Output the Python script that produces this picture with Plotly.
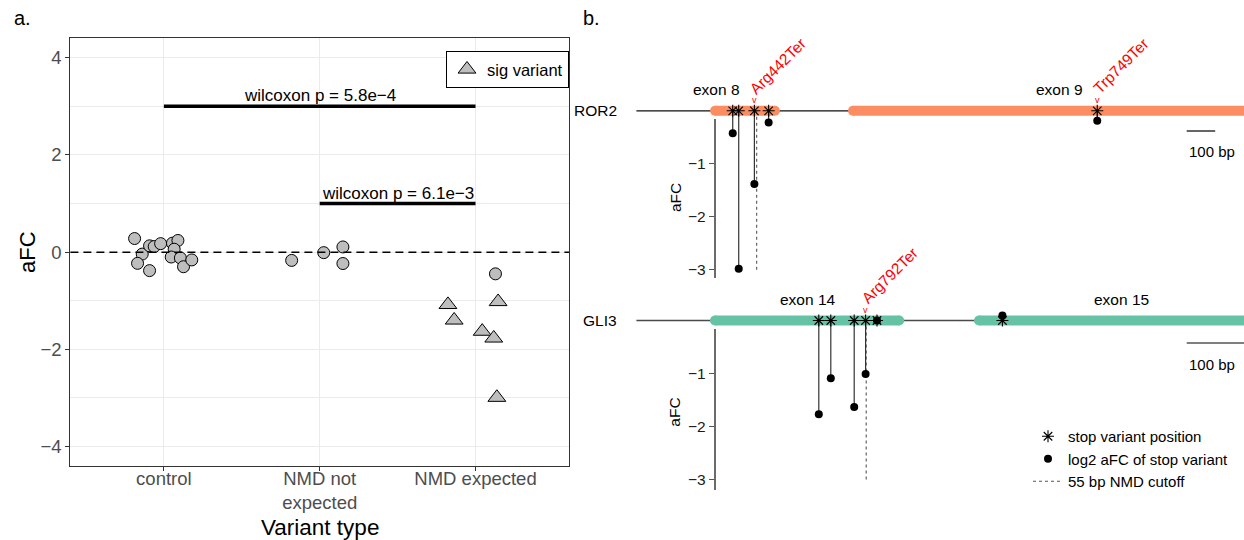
import plotly.graph_objects as go

W, H = 1244, 540
FONT = "Liberation Sans, Arial, Helvetica, sans-serif"

# ---------------- Panel a data ----------------
categories = ["control", "NMD not<br>expected", "NMD expected"]
control_jitter = [-0.188, -0.139, -0.169, -0.092, -0.092, -0.062, -0.021, 0.055, 0.090, 0.066, 0.047, 0.106, 0.126, 0.179]
control_afc = [0.28, -0.04, -0.23, -0.38, 0.13, 0.115, 0.175, 0.185, 0.24, 0.06, -0.10, -0.12, -0.30, -0.16]
nmd_not_jitter = [-0.18, 0.026, 0.149, 0.149]
nmd_not_afc = [-0.17, -0.01, 0.107, -0.234]
nmd_exp_jitter = [0.128, 0.145, -0.177, -0.137, 0.043, 0.117, 0.137]
nmd_exp_afc = [-0.446, -1.02, -1.08, -1.40, -1.63, -1.77, -2.99]
nmd_exp_sig = [False, True, True, True, True, True, True]
comp_from = [1, 2]
comp_to = [3, 3]
comp_y = [3.0, 1.0]
comp_label = ["wilcoxon p = 5.8e\u22124", "wilcoxon p = 6.1e\u22123"]
ref_level = 0

# ---------------- Panel b data ----------------
ror2_gene_span = [0, 2300]
ror2_exon_name = ["exon 8", "exon 9"]
ror2_exon_start = [276, 760]
ror2_exon_end = [486, 2300]
ror2_exon_label_x = [282, 1483]
ror2_var_pos = [338, 359, 414, 464, 1617]
ror2_var_afc = [-0.425, -2.98, -1.38, -0.22, -0.19]
ror2_var_label = ["", "", "Arg442Ter", "", "Trp749Ter"]
ror2_nmd_cutoff = 422

gli3_gene_span = [0, 1200]
gli3_exon_name = ["exon 14", "exon 15"]
gli3_exon_start = [131, 571]
gli3_exon_end = [438, 1200]
gli3_exon_label_x = [286, 809]
gli3_var_pos = [304, 324, 363, 382, 401, 610]
gli3_var_afc = [-1.77, -1.09, -1.63, -1.01, 0.0, 0.095]
gli3_var_label = ["", "", "", "Arg792Ter", "", ""]
gli3_nmd_cutoff = 383

afc_ticks = [-1, -2, -3]
cutoff_depth = -3
scalebar_bp = 100

fig = go.Figure()

# ---------------- Panel a ----------------
PT_FILL = "#BEBEBE"
circ_x, circ_y, tri_x, tri_y = [], [], [], []
for j, v in zip(control_jitter, control_afc):
    circ_x.append(1 + j); circ_y.append(v)
for j, v in zip(nmd_not_jitter, nmd_not_afc):
    circ_x.append(2 + j); circ_y.append(v)
for j, v, s in zip(nmd_exp_jitter, nmd_exp_afc, nmd_exp_sig):
    if s:
        tri_x.append(3 + j); tri_y.append(v)
    else:
        circ_x.append(3 + j); circ_y.append(v)

for i in range(len(comp_from)):
    fig.add_trace(go.Scatter(x=[comp_from[i], comp_to[i]], y=[comp_y[i], comp_y[i]], mode="lines",
                             line=dict(color="black", width=3.5), showlegend=False, hoverinfo="skip"))
    fig.add_annotation(x=(comp_from[i] + comp_to[i]) / 2, y=comp_y[i], xref="x", yref="y",
                       text=comp_label[i], showarrow=False, yanchor="bottom", yshift=-1,
                       font=dict(size=17, color="black", family=FONT))

fig.add_shape(type="line", xref="x domain", x0=0, x1=1, yref="y", y0=ref_level, y1=ref_level,
              line=dict(color="black", width=1.5, dash="8px,5px"))

fig.add_trace(go.Scatter(x=circ_x, y=circ_y, mode="markers", showlegend=False,
                         marker=dict(symbol="circle", size=12, color=PT_FILL, line=dict(color="black", width=1))))
fig.add_trace(go.Scatter(x=tri_x, y=tri_y, mode="markers", name="sig variant", showlegend=True, legend="legend",
                         marker=dict(symbol="triangle-up", size=15.5, color=PT_FILL, line=dict(color="black", width=1))))

# ---------------- Panel b ----------------
UNIT = 53.0  # px per aFC unit
genes = [
    dict(name="ROR2", xa="x2", ya="y2", yd="y4", zero=110.8, bp0=636.4, ppb=0.285, dom=(22, 292), ax=(119.3, 278.3),
         span=ror2_gene_span, es=ror2_exon_start, ee=ror2_exon_end, en=ror2_exon_name, elx=ror2_exon_label_x,
         pos=ror2_var_pos, afc=ror2_var_afc, lab=ror2_var_label, cut=ror2_nmd_cutoff, color="#FC8D62",
         gline="#111111", sb_px=1186.7, sb_y=131, sbt_y=151.7, afc_lab_y=198),
    dict(name="GLI3", xa="x3", ya="y3", yd="y5", zero=320.5, bp0=636.4, ppb=0.60, dom=(235, 505), ax=(329.3, 490),
         span=gli3_gene_span, es=gli3_exon_start, ee=gli3_exon_end, en=gli3_exon_name, elx=gli3_exon_label_x,
         pos=gli3_var_pos, afc=gli3_var_afc, lab=gli3_var_label, cut=gli3_nmd_cutoff, color="#66C2A5",
         gline="#4a4a4a", sb_px=1186.7, sb_y=343, sbt_y=364, afc_lab_y=412.7),
]

layout_axes = {}
for gi, g in enumerate(genes):
    xa, ya, yd = g["xa"], g["ya"], g["yd"]
    to_afc = lambda px, z=g["zero"]: (z - px) / UNIT
    to_bp = lambda px, g=g: (px - g["bp0"]) / g["ppb"]
    # gene backbone
    fig.add_trace(go.Scatter(x=g["span"], y=[0, 0], xaxis=xa, yaxis=ya, mode="lines",
                             line=dict(color=g["gline"], width=1.3), showlegend=False, hoverinfo="skip"))
    # exons (thick with round ends)
    ex, ey = [], []
    for s, e in zip(g["es"], g["ee"]):
        ex += [s, e, None]; ey += [0, 0, None]
    fig.add_trace(go.Scatter(x=ex, y=ey, xaxis=xa, yaxis=ya, mode="lines+markers",
                             line=dict(color=g["color"], width=10),
                             marker=dict(color=g["color"], size=10, line=dict(width=0)),
                             showlegend=False, hoverinfo="skip"))
    # NMD cutoff
    fig.add_trace(go.Scatter(x=[g["cut"], g["cut"]], y=[0, cutoff_depth], xaxis=xa, yaxis=ya, mode="lines",
                             line=dict(color="#555555", width=1.1, dash="3px,3px"),
                             name="55 bp NMD cutoff", legend="legend2", showlegend=(gi == 1),
                             legendrank=3, hoverinfo="skip"))
    # stems
    sx, sy = [], []
    for p, a in zip(g["pos"], g["afc"]):
        sx += [p, p, None]; sy += [0, a, None]
    fig.add_trace(go.Scatter(x=sx, y=sy, xaxis=xa, yaxis=ya, mode="lines",
                             line=dict(color="#333333", width=1.2), showlegend=False, hoverinfo="skip"))
    # stop positions
    fig.add_trace(go.Scatter(x=g["pos"], y=[0] * len(g["pos"]), xaxis=xa, yaxis=ya, mode="markers",
                             marker=dict(symbol="asterisk-open", size=10, color="black",
                                         line=dict(color="black", width=1.1)),
                             name="stop variant position", legend="legend2", showlegend=(gi == 1),
                             legendrank=1))
    # aFC dots
    fig.add_trace(go.Scatter(x=g["pos"], y=g["afc"], xaxis=xa, yaxis=ya, mode="markers",
                             marker=dict(symbol="circle", size=8, color="black"),
                             name="log2 aFC of stop variant", legend="legend2", showlegend=(gi == 1),
                             legendrank=2))
    # scale bar
    sb0 = to_bp(g["sb_px"])
    fig.add_trace(go.Scatter(x=[sb0, sb0 + scalebar_bp], y=[to_afc(g["sb_y"])] * 2, xaxis=xa, yaxis=ya,
                             mode="lines", line=dict(color="black", width=1.2), showlegend=False, hoverinfo="skip"))
    fig.add_annotation(x=sb0, y=to_afc(g["sbt_y"]), xref=xa, yref=ya, text=f"{scalebar_bp} bp", showarrow=False,
                       xanchor="left", yanchor="middle", font=dict(size=15, color="black", family=FONT))
    # display axis (empty trace to register it)
    fig.add_trace(go.Scatter(x=[], y=[], xaxis=xa, yaxis=yd, showlegend=False, hoverinfo="skip"))
    # labels
    for name, lx in zip(g["en"], g["elx"]):
        fig.add_annotation(x=lx, y=to_afc(g["zero"] - 21), xref=xa, yref=ya, text=name, showarrow=False,
                           xanchor="center", yanchor="middle", font=dict(size=15.5, color="black", family=FONT))
    for p, lab in zip(g["pos"], g["lab"]):
        if lab:
            fig.add_annotation(x=p, y=0, xref=xa, yref=ya, text=lab, showarrow=False, textangle=-45,
                               xanchor="center", yanchor="middle", xshift=24, yshift=45,
                               font=dict(size=15.5, color="red", family=FONT))
            fig.add_annotation(x=p, y=0, xref=xa, yref=ya, text="v", showarrow=False,
                               xanchor="center", yanchor="middle", yshift=11,
                               font=dict(size=9, color="red", family=FONT))
    fig.add_annotation(x=619 / W, y=0, xref="paper", yref=ya, text=g["name"], showarrow=False,
                       xanchor="right", yanchor="middle", font=dict(size=15.5, color="black", family=FONT))
    fig.add_annotation(x=675 / W, y=to_afc(g["afc_lab_y"]), xref="paper", yref=ya, text="aFC", showarrow=False,
                       textangle=-90, xanchor="center", yanchor="middle",
                       font=dict(size=15.5, color="black", family=FONT))

    d0, d1 = g["dom"]
    a0, a1 = g["ax"]
    layout_axes[xa.replace("x", "xaxis")] = dict(domain=[580 / W, 1], range=[to_bp(580), to_bp(W)], visible=False,
                                                   anchor=ya)
    layout_axes[ya.replace("y", "yaxis")] = dict(domain=[1 - d1 / H, 1 - d0 / H], range=[to_afc(d1), to_afc(d0)],
                                                   visible=False, anchor=xa)
    layout_axes[yd.replace("y", "yaxis")] = dict(domain=[1 - a1 / H, 1 - a0 / H], range=[to_afc(a1), to_afc(a0)],
                                                   anchor="free", position=714.5 / W, showline=True,
                                                   linecolor="#6b6b6b", linewidth=1.6, ticks="outside",
                                                   ticklen=5, tickcolor="#555555", tickwidth=1.1,
                                                   tickvals=afc_ticks, showgrid=False, zeroline=False,
                                                   tickfont=dict(size=15.5, color="#1a1a1a", family=FONT))

# ---------------- Layout ----------------
GRID = "#EBEBEB"
fig.update_layout(
    width=W, height=H, autosize=False, margin=dict(l=0, r=0, t=0, b=0),
    paper_bgcolor="white", plot_bgcolor="rgba(0,0,0,0)",
    font=dict(family=FONT, color="black"),
    xaxis=dict(domain=[70.4 / W, 569 / W], range=[0.4, 3.6], tickvals=[1, 2, 3], ticktext=categories,
               showgrid=True, gridcolor=GRID, gridwidth=1.3, zeroline=False,
               showline=True, mirror=True, linecolor="#333333", linewidth=1.2,
               ticks="outside", ticklen=4, tickcolor="#333333", tickwidth=1.1, ticklabelstandoff=-8,
               tickfont=dict(size=18.5, color="#4D4D4D", family=FONT), anchor="y"),
    yaxis=dict(domain=[1 - 466 / H, 1 - 38.3 / H], range=[-4.4, 4.4], tickvals=[-4, -2, 0, 2, 4],
               showgrid=True, gridcolor=GRID, gridwidth=1.3, zeroline=False,
               minor=dict(tickvals=[-3, -1, 1, 3], showgrid=True, gridcolor=GRID, gridwidth=0.7, ticks=""),
               showline=True, mirror=True, linecolor="#333333", linewidth=1.2,
               ticks="outside", ticklen=4, tickcolor="#333333", tickwidth=1.1,
               tickfont=dict(size=18.5, color="#4D4D4D", family=FONT), anchor="x"),
    legend=dict(x=446 / W, y=1 - 51 / H, xanchor="left", yanchor="top", bordercolor="black", borderwidth=1,
                bgcolor="white", font=dict(size=16.5, color="black", family=FONT), itemwidth=30),
    legend2=dict(x=1028 / W, y=1 - 420 / H, xanchor="left", yanchor="top", borderwidth=0,
                 bgcolor="rgba(0,0,0,0)", font=dict(size=15, color="black", family=FONT),
                 tracegroupgap=0),
    showlegend=True,
    **layout_axes,
)

fig.add_annotation(x=27 / W, y=1 - 252 / H, xref="paper", yref="paper", text="aFC", showarrow=False,
                   textangle=-90, xanchor="center", yanchor="middle",
                   font=dict(size=22, color="black", family=FONT))
fig.add_annotation(x=320 / W, y=1 - 527 / H, xref="paper", yref="paper", text="Variant type", showarrow=False,
                   xanchor="center", yanchor="middle", font=dict(size=22.5, color="black", family=FONT))
fig.add_annotation(x=12 / W, y=1 - 18 / H, xref="paper", yref="paper", text="a.", showarrow=False,
                   xanchor="left", yanchor="middle", font=dict(size=20, color="black", family=FONT))
fig.add_annotation(x=581 / W, y=1 - 18 / H, xref="paper", yref="paper", text="b.", showarrow=False,
                   xanchor="left", yanchor="middle", font=dict(size=20, color="black", family=FONT))

fig.write_html("out.html")
